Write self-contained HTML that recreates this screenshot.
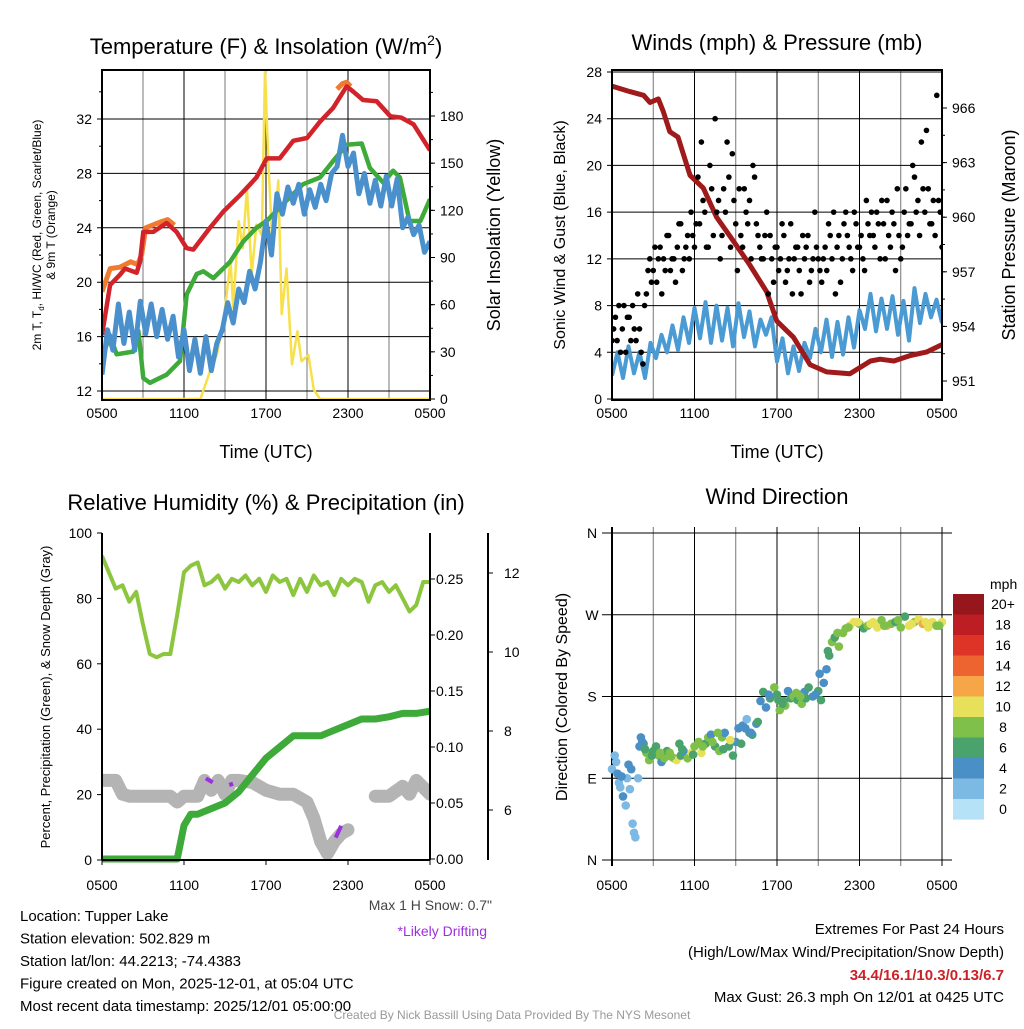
<!DOCTYPE html>
<html><head><meta charset="utf-8"><style>
html,body{margin:0;padding:0;background:#fff}
svg text{font-family:"Liberation Sans",Arial,sans-serif}
</style></head><body>
<svg id="c" width="1024" height="1024" viewBox="0 0 1024 1024" xmlns="http://www.w3.org/2000/svg"></svg>
<script>
// ===== DATA =====
const xTickLabels=["0500","1100","1700","2300","0500"];
// Panel 1 temperatures (hours since 0500, value F)
const redH=[0,0.59,1.32,1.68,2.54,2.78,3.02,3.75,4.73,5.46,6.2,6.68,7.9,8.88,10.1,11.3,12.05,13.0,14.0,15.0,15.95,16.9,17.9,18.4,19.1,20.1,21.1,21.9,22.8,24];
const redV=[16.1,19.8,20.55,21.0,20.7,21.5,23.7,23.7,24.35,23.7,22.5,22.4,24,25.2,26.4,27.7,29.1,29.1,30.4,30.6,31.8,32.8,34.4,34.0,33.4,33.3,32.2,32.1,31.6,29.7];
const orangeH=[0,0.6,1.3,2.1,2.6,2.9,3.2,4.2,4.8,5.3];
const orangeV=[19.3,21,21.1,21.5,21.3,22,24,24.4,24.6,24.2];
const orange2H=[17.2,17.6,17.9,18.2];
const orange2V=[34.2,34.6,34.7,34.4];
const greenH=[0,0.58,1.07,2.29,2.66,3.02,3.51,4.73,5.71,6.2,6.93,7.42,8.15,9.37,10.34,11.3,12.05,13.5,14.7,15.95,16.9,17.9,19,19.6,20.6,21.3,21.8,22.5,23.3,24];
const greenV=[14.4,16.1,14.7,14.9,16.4,12.95,12.6,13.2,14.2,19.1,20.6,20.8,20.3,21.5,23,24,24.5,26,27.2,27.7,28.9,30.1,30.2,28.4,27.3,28.2,27.7,24.5,24.5,26.1];
const blueH=[0,0.4,0.8,1.2,1.6,2,2.4,2.8,3.2,3.6,4,4.4,4.8,5.2,5.6,6,6.4,6.8,7.2,7.6,8,8.4,8.8,9.2,9.6,10,10.4,10.8,11.2,11.6,12,12.4,12.8,13.2,13.6,14,14.4,14.8,15.2,15.6,16,16.4,16.8,17.2,17.6,18,18.4,18.8,19.2,19.6,20,20.4,20.8,21.2,21.6,22,22.4,22.8,23.2,23.6,24];
const blueV=[13.2,16.5,15,18.4,15.5,17.8,15,18.6,16.2,18.4,16,18,15.8,17.5,14.5,16.5,13.5,15.8,13.3,16,13.5,15.5,16.5,18.5,17,19.5,18.5,20.8,19.5,21.5,24.5,22,26.5,25,27,25.8,27.2,25,26.8,25.5,27.2,26,28,28.5,30.8,28.5,29.5,26.5,28,25.8,27.5,25.6,27.8,25.6,27.6,24,24.8,23.5,24.2,22.2,23];
const solarH=[0,7.2,7.9,8.4,8.9,9.4,9.6,10.0,10.3,10.6,10.95,11.3,11.7,11.93,12.17,12.5,12.9,13.15,13.5,13.9,14.3,14.6,15.1,15.5,15.95,24];
const solarV=[0,0,17.6,28,49.6,88,58,113,96,134,79,111,104,210,151,94,139,54,83,22,43,24,28,6,0,0];
const tTicks=[12,16,20,24,28,32];
const sTicks=[0,30,60,90,120,150,180];
// Panel 2
const presH=[0,1.3,2.3,2.76,3.37,3.73,4.2,4.8,5.67,6.64,7.61,8.82,10.0,11.25,11.98,13.2,14.4,15.6,17.3,18.8,19.5,20.5,21.7,22.9,24];
const presV=[967.2,966.9,966.7,966.3,966.5,965.8,964.7,964.4,962.3,961.6,960.0,958.7,957.4,955.9,954.3,953.4,951.9,951.5,951.4,952.1,952.2,952.1,952.4,952.6,953];
const windH=[0,0.4,0.8,1.2,1.6,2,2.4,2.8,3.2,3.6,4,4.4,4.8,5.2,5.6,6,6.4,6.8,7.2,7.6,8,8.4,8.8,9.2,9.6,10,10.4,10.8,11.2,11.6,12,12.4,12.8,13.2,13.6,14,14.4,14.8,15.2,15.6,16,16.4,16.8,17.2,17.6,18,18.4,18.8,19.2,19.6,20,20.4,20.8,21.2,21.6,22,22.4,22.8,23.2,23.6,24];
const windV=[2,4,1.8,4.5,2.2,4,1.8,4.8,3.5,5.5,4,6.3,4.2,7,4.8,7.8,5.2,8.3,4.8,8,5,7.8,4.5,8.2,5.3,7.5,4.5,6.8,5.5,7,3.2,5.2,2.2,4.5,2.4,4.8,3.5,6,4,6.8,3.6,6.6,3.8,7,4.4,7.6,6,9,5.8,8.6,6,8.8,5.5,8.4,5,9.5,6.5,9,7,8.5,6.5];
const gustA=[5,7,8,6,4,7,8,5,6,3,9,12,11,10,13,12,14,11,12,13,15,12,14,16,13,19,22,16,13,18,24,17,14,16,19,21,15,18,13,16,17,20,15,13,12,16,14,10,13,12,14,11,15,12,13,9,12,14,11,16,12,10,13,15,12,9,14,12,16,13,11,15,13,12,17,14,14,16,12,15,17,13,15,18,12,16,14,15,19,17,22,16,18,15,14,17,13];
const gustB=[6,5,4,8,7,5,6,9,4,8,11,10,13,12,9,11,14,12,10,15,11,13,12,14,15,15,17,13,20,14,16,12,18,22,13,17,11,14,18,15,12,19,14,12,14,9,12,13,11,15,10,12,9,13,11,14,13,10,12,13,11,12,11,14,16,13,10,15,14,12,16,13,14,11,15,16,13,15,17,12,14,16,11,14,13,18,15,20,16,14,18,23,15,17,26,16,15];
const wTicks=[0,4,8,12,16,20,24,28];
const pTicks=[951,954,957,960,963,966];
// Panel 3
const rhH=[0,0.5,1,1.5,2,2.5,3,3.5,4,4.5,5,5.5,6,6.5,7,7.5,8,8.5,9,9.5,10,10.5,11,11.5,12,12.5,13,13.5,14,14.5,15,15.5,16,16.5,17,17.5,18,18.5,19,19.5,20,20.5,21,21.5,22,22.5,23,23.5,24];
const rhV=[93,88,83,84,79,82,72,63,62,63,63,75,88,90,91,84,85,87,83,86,85,87,84,86,82,87,85,86,81,86,82,87,84,85,81,86,84,86,85,79,84,85,82,84,80,76,78,85,85];
const prH=[0,5.5,6,6.5,7,8,9,10,11,12,13,14,15,16,17,18,19,20,21,22,23,24];
const prV=[0,0,0.03,0.04,0.04,0.045,0.05,0.06,0.075,0.09,0.1,0.11,0.11,0.11,0.115,0.12,0.125,0.125,0.127,0.13,0.13,0.132];
const snowH=[0,1,1.5,2,5,5.5,6,7,7.5,8,8.5,9,9.5,10,11,12,13,14,15,15.5,16,16.5,17,17.5,18];
const snowV=[6.75,6.75,6.4,6.35,6.35,6.2,6.35,6.35,6.75,6.5,6.75,6.4,6.75,6.75,6.7,6.5,6.4,6.4,6.2,5.8,5.2,4.9,5.2,5.4,5.5];
const snow2H=[20,21,22,22.5,23,24];
const snow2V=[6.35,6.35,6.6,6.4,6.75,6.4];
const rhTicks=[0,20,40,60,80,100];
const prTicks=[0,0.05,0.1,0.15,0.2,0.25];
const sdTicks=[6,8,10,12];
// Panel 4
const dirH=[0,0.2,0.4,0.5,0.6,0.8,1,1.1,1.2,1.4,1.5,1.7,1.9,2,2.1,2.3,2.5,2.7,3,3.2,3.4,3.6,3.8,4,4.2,4.5,4.7,5,5.2,5.5,5.8,6,6.3,6.5,6.8,7,7.2,7.5,7.8,8,8.2,8.5,8.8,9,9.2,9.5,9.8,10,10.2,10.5,10.8,11,11.2,11.5,11.8,12,12.2,12.5,12.8,13,13.2,13.5,13.8,14,14.3,14.6,15,15.2,15.4,15.6,15.8,16,16.2,16.5,16.8,17,17.3,17.6,18,18.3,18.6,19,19.3,19.6,20,20.3,20.6,21,21.3,21.6,22,22.3,22.6,23,23.3,23.6,24,
 0.3,0.7,1.3,2.2,2.9,3.5,4.3,5.1,5.9,6.6,7.3,8.1,8.6,9.4,10.1,10.6,11.4,12.1,12.6,13.4,14.1,14.8,15.1,15.7,16.4,17.2,17.9,18.8,19.8,20.8,21.8,22.8,23.8,1.6,2.4,4.9,7.7,9.7,12.4,13.7];
const dirV=[100,115,95,85,80,70,60,90,105,100,40,25,90,125,135,128,118,110,120,125,115,108,112,120,118,112,110,115,120,112,118,125,130,118,128,135,138,125,120,135,140,125,115,130,145,148,155,140,138,150,175,185,168,178,190,182,165,175,186,178,180,176,172,185,190,180,186,176,195,210,225,240,245,235,250,255,258,262,260,255,258,262,256,264,258,260,262,256,268,258,262,265,260,256,262,258,262,
 108,92,78,130,115,118,114,122,116,125,130,122,132,128,140,152,182,176,170,184,178,182,205,230,250,256,262,260,258,264,260,262,258,30,122,128,140,145,172,180];
const spdV=[2,2,3,1,2,3,2,2,4,4,2,2,2,4,4,5,7,8,6,5,8,4,7,6,8,7,9,6,4,8,9,7,8,9,6,7,4,5,8,7,4,6,5,3,4,4,2,6,6,4,4,6,4,6,7,6,8,6,4,6,8,6,7,4,6,3,5,6,4,4,5,8,6,7,7,8,9,10,7,6,8,9,10,8,11,7,6,8,5,9,8,10,11,10,9,8,9,
 2,3,2,4,6,7,8,5,6,7,8,5,9,6,4,5,4,6,8,7,6,4,4,5,7,8,9,10,8,7,9,10,8,2,5,6,8,4,6,7];
const cbLabels=["20+","18","16","14","12","10","8","6","4","2","0"];
const cbColors=["#95171c","#bd1e24","#dd3427","#ee6430","#f6a647","#e6e05a","#7fc04b","#4aa36c","#4a8fc6","#7cb9e3","#b5e2f6"];

// ===== DRAW =====
const svg=document.getElementById('c');const NS='http://www.w3.org/2000/svg';
function el(t,a,p){const e=document.createElementNS(NS,t);for(const k in a)e.setAttribute(k,a[k]);(p||svg).appendChild(e);return e;}
function txt(x,y,s,size,anchor,p,extra){const e=el('text',Object.assign({x:x,y:y,'font-size':size,'text-anchor':anchor||'middle',fill:'#000'},extra||{}),p);e.textContent=s;return e;}
function lin(d0,d1,r0,r1){return v=>r0+(v-d0)*(r1-r0)/(d1-d0);}
function path(xs,ys,fx,fy){return xs.map((h,i)=>(i?'L':'M')+fx(h).toFixed(1)+','+fy(ys[i]).toFixed(1)).join('');}
function grp(name){const g=el('g',{});return g;}

// ---------- Panel 1 ----------
(function(){
const g=grp('temperature-panel');
const L=102,R=430,T=70,B=400;
const fx=lin(0,24,L,R), fy=lin(12,32,391,119), fs=lin(0,180,399,116);
const clip=el('clipPath',{id:'c1'},g);el('rect',{x:L,y:T,width:R-L,height:B-T},clip);
for(let h=0;h<=24;h+=3)el('line',{x1:fx(h),x2:fx(h),y1:T,y2:B,stroke:h%6?'#777':'#000','stroke-width':1},g);
tTicks.forEach(v=>{el('line',{x1:L-5,x2:R,y1:fy(v),y2:fy(v),stroke:'#000'},g);txt(L-10,fy(v)+5,v,14,'end',g);});
for(let v=14;v<=34;v+=4)el('line',{x1:L-3,x2:L,y1:fy(v),y2:fy(v),stroke:'#000'},g);
sTicks.forEach(v=>{el('line',{x1:R,x2:R+5,y1:fs(v),y2:fs(v),stroke:'#000'},g);txt(R+10,fs(v)+5,v,14,'start',g);});
for(let v=15;v<=195;v+=15)el('line',{x1:R,x2:R+3,y1:fs(v),y2:fs(v),stroke:'#000'},g);
const d=el('g',{'clip-path':'url(#c1)'},g);
const s1=el('path',{d:path(solarH,solarV,fx,fs),fill:'none',stroke:'#f7e04a','stroke-width':2.5,'stroke-linejoin':'round'},d);
const s2=el('path',{d:path(orangeH,orangeV,fx,fy)+path(orange2H,orange2V,fx,fy),fill:'none',stroke:'#f07a30','stroke-width':5,'stroke-linejoin':'round'},d);
const s3=el('path',{d:path(redH,redV,fx,fy),fill:'none',stroke:'#d2232a','stroke-width':4.5,'stroke-linejoin':'round'},d);
const s4=el('path',{d:path(greenH,greenV,fx,fy),fill:'none',stroke:'#3eaa3a','stroke-width':4.5,'stroke-linejoin':'round'},d);
const s5=el('path',{d:path(blueH,blueV,fx,fy),fill:'none',stroke:'#4a90cc','stroke-width':5,'stroke-linejoin':'round'},d);
el('rect',{x:L,y:T,width:R-L,height:B-T,fill:'none',stroke:'#000','stroke-width':2},g);
xTickLabels.forEach((s,i)=>txt(fx(i*6),418,s,14,'middle',g));
const t=txt(266,54,'Temperature (F) & Insolation (W/m',22,'middle',g);const sup=el('tspan',{dy:-9,'font-size':14},t);sup.textContent='2';const cl=el('tspan',{dy:9},t);cl.textContent=')';

txt(266,458,'Time (UTC)',18,'middle',g);
const yl=el('g',{transform:'translate(41,235) rotate(-90)'},g);
const y1=el('text',{x:0,y:0,'font-size':12,'text-anchor':'middle',fill:'#000'},yl);y1.textContent='2m T, T';const sb=el('tspan',{dy:3,'font-size':8},y1);sb.textContent='d';const r1=el('tspan',{dy:-3},y1);r1.textContent=', HI/WC (Red, Green, Scarlet/Blue)';
txt(0,14,'& 9m T (Orange)',12,'middle',yl);
txt(0,0,'Solar Insolation (Yellow)',18,'middle',el('g',{transform:'translate(500,235) rotate(-90)'},g));
})();

// ---------- Panel 2 ----------
(function(){
const g=grp('winds-panel');
const L=612,R=942,T=70,B=400;
const fx=lin(0,24,L,R), fy=lin(0,28,399,72), fp=lin(951,966,381,108);
const clip=el('clipPath',{id:'c2'},g);el('rect',{x:L,y:T,width:R-L,height:B-T},clip);
for(let h=0;h<=24;h+=3)el('line',{x1:fx(h),x2:fx(h),y1:T,y2:B,stroke:h%6?'#777':'#000'},g);
wTicks.forEach(v=>{el('line',{x1:L-5,x2:R,y1:fy(v),y2:fy(v),stroke:'#000'},g);txt(L-10,fy(v)+5,v,14,'end',g);});
pTicks.forEach(v=>{el('line',{x1:R,x2:R+5,y1:fp(v),y2:fp(v),stroke:'#000'},g);txt(R+10,fp(v)+5,v,14,'start',g);});
for(let v=952.5;v<=967;v+=1.5)el('line',{x1:R,x2:R+3,y1:fp(v),y2:fp(v),stroke:'#000'},g);
const d=el('g',{'clip-path':'url(#c2)'},g);
const w=el('path',{d:path(windH,windV,fx,fy),fill:'none',stroke:'#4a9ad4','stroke-width':4,'stroke-linejoin':'round'},d);
const p=el('path',{d:path(presH,presV,fx,fp),fill:'none',stroke:'#a01a1c','stroke-width':5,'stroke-linejoin':'round'},d);
gustA.forEach((v,i)=>{const c=el('circle',{cx:fx(i*0.25),cy:fy(v),r:2.8,fill:'#000'},d);});
gustB.forEach((v,i)=>{const c=el('circle',{cx:fx(i*0.25+0.12),cy:fy(v),r:2.8,fill:'#000'},d);});
el('rect',{x:L,y:T,width:R-L,height:B-T,fill:'none',stroke:'#000','stroke-width':2},g);
xTickLabels.forEach((s,i)=>txt(fx(i*6),418,s,14,'middle',g));
const t=txt(777,50,'Winds (mph) & Pressure (mb)',22,'middle',g);
txt(777,458,'Time (UTC)',18,'middle',g);
txt(0,0,'Sonic Wind & Gust (Blue, Black)',16,'middle',el('g',{transform:'translate(565,235) rotate(-90)'},g));
txt(0,0,'Station Pressure (Maroon)',18,'middle',el('g',{transform:'translate(1015,235) rotate(-90)'},g));
})();

// ---------- Panel 3 ----------
(function(){
const g=grp('humidity-panel');
const L=102,R=430,T=533,B=860;
const fx=lin(0,24,L,R), fy=lin(0,100,860,533), fpr=lin(0,0.25,859,579), fsd=lin(6,12,810,573);
const clip=el('clipPath',{id:'c3'},g);el('rect',{x:L,y:T-5,width:R-L,height:B-T+10},clip);
rhTicks.forEach(v=>{el('line',{x1:L-5,x2:L,y1:fy(v),y2:fy(v),stroke:'#000'},g);txt(L-10,fy(v)+5,v,14,'end',g);});
prTicks.forEach(v=>{el('line',{x1:R,x2:R+5,y1:fpr(v),y2:fpr(v),stroke:'#000'},g);txt(R+6,fpr(v)+5,v.toFixed(2),14,'start',g);});
el('line',{x1:488,x2:488,y1:T,y2:B,stroke:'#000','stroke-width':2},g);
sdTicks.forEach(v=>{el('line',{x1:488,x2:493,y1:fsd(v),y2:fsd(v),stroke:'#000'},g);txt(504,fsd(v)+5,v,14,'start',g);});
const d=el('g',{'clip-path':'url(#c3)'},g);
[[snowH,snowV],[snow2H,snow2V]].forEach(a=>{const s=el('path',{d:path(a[0],a[1],fx,fsd),fill:'none',stroke:'#b4b4b4','stroke-width':13,'stroke-linejoin':'round','stroke-linecap':'round'},d);});
const pu=el('path',{d:'M'+fx(7.6)+','+fsd(6.8)+'L'+fx(8.1)+','+fsd(6.7)+'M'+fx(9.4)+','+fsd(6.7)+'L'+fx(9.5)+','+fsd(6.6)+'M'+fx(17.1)+','+fsd(5.3)+'L'+fx(17.5)+','+fsd(5.6),fill:'none',stroke:'#9b30e0','stroke-width':4},d);
const rh=el('path',{d:path(rhH,rhV,fx,fy),fill:'none',stroke:'#8cc63f','stroke-width':4,'stroke-linejoin':'round'},d);
const pr=el('path',{d:path(prH,prV,fx,fpr),fill:'none',stroke:'#3daa3a','stroke-width':7,'stroke-linejoin':'round'},d);
el('line',{x1:L,x2:L,y1:T,y2:B,stroke:'#000','stroke-width':2},g);
el('line',{x1:R,x2:R,y1:T,y2:B,stroke:'#000','stroke-width':2},g);
el('line',{x1:L,x2:R,y1:B,y2:B,stroke:'#000','stroke-width':2},g);
xTickLabels.forEach((s,i)=>{el('line',{x1:fx(i*6),x2:fx(i*6),y1:B,y2:B+5,stroke:'#000'},g);txt(fx(i*6),890,s,14,'middle',g);});
const t=txt(266,510,'Relative Humidity (%) & Precipitation (in)',22,'middle',g);
txt(0,0,'Percent, Precipitation (Green), & Snow Depth (Gray)',13,'middle',el('g',{transform:'translate(50,697) rotate(-90)'},g));
txt(492,910,'Max 1 H Snow: 0.7"',14,'end',g,{fill:'#444'});
txt(487,936,'*Likely Drifting',14,'end',g,{fill:'#9b30e0'});
})();

// ---------- Panel 4 ----------
(function(){
const g=grp('wind-direction-panel');
const L=612,R=942,T=533,B=860;
const fx=lin(0,24,L,R), fy=lin(0,360,860,533);
for(let h=0;h<=24;h+=3)el('line',{x1:fx(h),x2:fx(h),y1:T-6,y2:B+6,stroke:h%6?'#777':'#000'},g);
["N","E","S","W","N"].forEach((s,i)=>{el('line',{x1:L-10,x2:R+10,y1:fy(i*90),y2:fy(i*90),stroke:'#000'},g);txt(L-20,fy(i*90)+5,s,14,'middle',g);});
el('line',{x1:L,x2:L,y1:T-6,y2:B+6,stroke:'#000','stroke-width':2},g);
const col=s=>cbColors[10-Math.min(10,Math.max(0,Math.round(s/2)))];
dirV.forEach((v,i)=>{const c=el('circle',{cx:fx(dirH[i]),cy:fy(v),r:4.3,fill:col(spdV[i])},g);});
xTickLabels.forEach((s,i)=>txt(fx(i*6),890,s,14,'middle',g));
const t=txt(777,504,'Wind Direction',22,'middle',g);
txt(0,0,'Direction (Colored By Speed)',16,'middle',el('g',{transform:'translate(567,697) rotate(-90)'},g));
const cb=grp('speed-colorbar');
txt(990,589,'mph',14,'start',cb);
cbColors.forEach((c,i)=>{el('rect',{x:953,y:594+i*20.5,width:31,height:20.6,fill:c},cb);txt(1003,594+i*20.5+15,cbLabels[i],14,'middle',cb);});
})();

// ---------- Footer ----------
(function(){
const g=grp('station-info');
["Location: Tupper Lake","Station elevation: 502.829 m","Station lat/lon: 44.2213; -74.4383","Figure created on Mon, 2025-12-01, at 05:04 UTC","Most recent data timestamp: 2025/12/01 05:00:00"].forEach((s,i)=>txt(20,921+i*22.5,s,15,'start',g));
const e=grp('extremes-info');
txt(1004,934,'Extremes For Past 24 Hours',15,'end',e);
txt(1004,957,'(High/Low/Max Wind/Precipitation/Snow Depth)',15,'end',e);
txt(1004,980,'34.4/16.1/10.3/0.13/6.7',15,'end',e,{'font-weight':'bold',fill:'#cc2127'});
txt(1004,1002,'Max Gust: 26.3 mph On 12/01 at 0425 UTC',15,'end',e);
const c=txt(512,1019,'Created By Nick Bassill Using Data Provided By The NYS Mesonet',12,'middle',svg,{fill:'#999'});

})();
</script>
</body></html>
